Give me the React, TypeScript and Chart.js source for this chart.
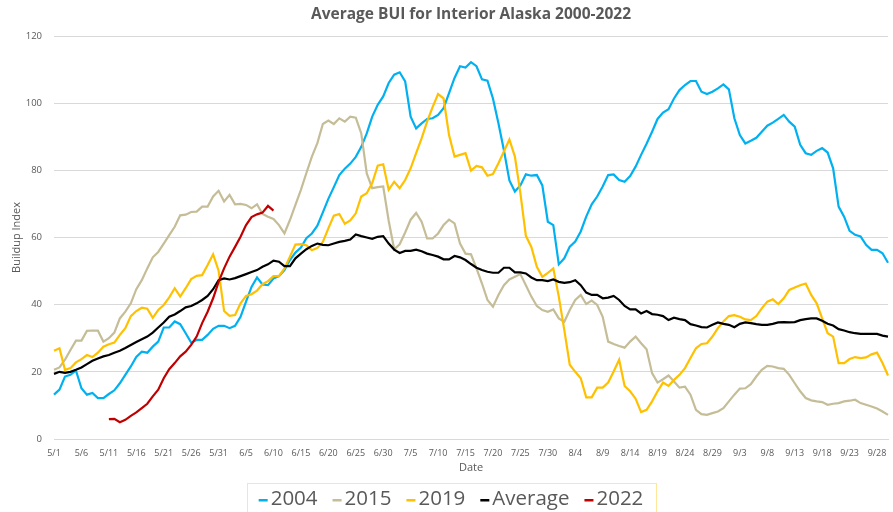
import React, { useEffect, useRef } from "react";
import { Chart, registerables } from "chart.js";

Chart.register(...registerables);

const FONT = '"Open Sans", "Noto Sans", sans-serif';
const TEXT = "#595959";

const TITLE = "Average BUI for Interior Alaska 2000-2022";
const Y_TITLE = "Buildup Index";
const X_TITLE = "Date";

const MONTHS = [5, 6, 7, 8, 9];
const MONTH_DAYS = [31, 30, 31, 31, 30];
const DATES: string[] = [];
MONTHS.forEach((m, k) => {
  for (let d = 1; d <= MONTH_DAYS[k]; d++) DATES.push(`${m}/${d}`);
});

const Y_TICKS = { min: 0, max: 120, step: 20 };

const S2004 = [
  13.2, 14.7, 18.6, 19.1, 20.4, 15.1, 13.2, 13.7, 12.2, 12.2, 13.4, 14.5, 16.6, 19.1, 21.6, 24.4, 26, 25.7, 27.5, 29, 33.2, 33.2, 35, 34.2, 31.5, 28.7, 29.5, 29.5, 31, 32.8, 33.7,
  33.7, 33, 33.7, 36.4, 40.9, 45.3, 48.1, 46, 45.8, 47.8, 48.5, 50.3, 53.3, 55.5, 57, 59.8, 61.2, 63.5, 67.5, 71.5, 75, 78.6, 80.5, 82, 84, 87, 91, 96, 99.5, 102,
  106, 108.5, 109.2, 106.5, 96, 92.5, 94, 95.3, 95.5, 96.5, 98.5, 103, 107.5, 111, 110.6, 112.2, 111, 107.1, 106.7, 101.4, 94, 86, 77, 73.7, 75.5, 78.8, 78.4, 78.6, 75.5, 64.7, 63.7,
  52, 53.8, 57.3, 58.8, 61.8, 66.2, 69.9, 72.2, 75.2, 78.6, 78.8, 77.1, 76.6, 78.3, 81.1, 84.6, 87.9, 91.5, 95.3, 97.2, 98.2, 101.4, 103.9, 105.4, 106.6, 106.6, 103.4, 102.7, 103.4, 104.4, 105.6,
  104.1, 95.5, 90.5, 88, 88.8, 89.7, 91.5, 93.3, 94.2, 95.3, 96.5, 94.5, 93, 87.6, 85.1, 84.6, 85.8, 86.6, 85.3, 80.6, 69.2, 66.2, 62, 60.8, 60.3, 57.8, 56.3, 56.3, 55.3, 52.5,
];

const S2015 = [
  20.6, 21.3, 23.6, 26.5, 29.3, 29.3, 32.2, 32.3, 32.3, 29, 30, 31.7, 35.9, 37.9, 40.4, 44.6, 47.3, 50.8, 54.1, 55.7, 58.2, 60.7, 63.2, 66.6, 66.8, 67.6, 67.7, 69.2, 69.2, 72.2, 73.9,
  70.7, 72.7, 69.9, 70, 69.7, 68.7, 69.9, 67, 66.2, 65.5, 63.7, 61.2, 65.2, 69.7, 74.2, 79.2, 84.1, 88.1, 93.8, 94.8, 93.8, 95.5, 94.5, 96, 95.7, 91, 79.1, 74.7, 75, 75.2,
  65, 56.5, 58, 61.5, 65.3, 67.3, 64.7, 59.7, 59.7, 61.2, 63.7, 65.3, 64.2, 58.2, 55.2, 55, 50.8, 46.3, 41.4, 39.4, 42.9, 45.8, 47.5, 48.3, 49.1, 45.8, 42.4, 39.6, 38.4, 37.9, 38.6,
  35.9, 34.9, 38.4, 41.4, 42.9, 40.2, 41.2, 39.9, 36.4, 29, 28.3, 27.7, 27.2, 29, 30.5, 28.5, 26.7, 19.6, 16.8, 17.8, 18.9, 17.1, 15.3, 15.6, 13.2, 8.7, 7.4, 7.2, 7.7, 8.2, 9.2,
  11.2, 13.2, 15, 15.1, 16.3, 18.6, 20.6, 21.8, 21.6, 21.1, 20.9, 19.1, 16.6, 14.2, 12.2, 11.5, 11.2, 11, 10.2, 10.5, 10.7, 11.2, 11.4, 11.7, 10.7, 10.2, 9.7, 9.1, 8.2, 7.2,
];

const S2019 = [
  26.3, 27, 20.6, 21.1, 22.8, 23.8, 25, 24.4, 25.7, 27.5, 28.2, 28.7, 31, 33, 36.6, 38.1, 39.1, 38.8, 36.1, 38.4, 39.9, 42.2, 44.9, 42.4, 44.9, 47.6, 48.6, 48.8, 51.8, 55, 50.1,
  38.1, 36.7, 36.9, 40.4, 42.6, 43.1, 44.2, 46.1, 47, 48.5, 48.5, 50.8, 54.3, 57.9, 58, 57.7, 56.2, 56.9, 58.7, 62.7, 66.5, 67, 64.1, 65.1, 67.2, 72.2, 73.2, 76.2, 81.4, 81.8,
  74.2, 76.6, 74.7, 77.1, 80.6, 85.1, 89.5, 94.5, 98.8, 102.7, 101.4, 90.5, 84.1, 84.6, 85.1, 79.9, 81.3, 80.9, 78.4, 78.9, 82.1, 85.6, 89.2, 84.1, 73.2, 60.5, 57.2, 51.3, 48.3, 49.5, 50.8,
  42.4, 32.5, 22.1, 20, 18.1, 12.4, 12.4, 15.3, 15.3, 16.8, 20.1, 23.6, 15.8, 14.2, 12, 8, 8.7, 11.2, 14.2, 16.8, 15.8, 17.6, 19.1, 21.1, 24.1, 27, 28.3, 28.5, 30.5, 33, 35,
  36.6, 36.9, 36.4, 35.6, 35.4, 36.6, 38.9, 40.9, 41.6, 40.2, 41.9, 44.4, 45.1, 45.8, 46.3, 42.9, 40.4, 35.9, 31.5, 30.5, 22.6, 22.6, 23.8, 24.4, 24.1, 24.3, 25.2, 25.7, 22.6, 18.9,
];

const SAVG = [
  19.4, 20, 19.7, 20, 20.6, 21.3, 22.3, 23.3, 24, 24.6, 25, 25.7, 26.3, 27.1, 28, 28.9, 29.7, 30.5, 31.7, 33.2, 34.7, 36.4, 37.1, 38.1, 39.2, 39.6, 40.4, 41.4, 42.6, 44.6, 47.3,
  47.8, 47.5, 47.9, 48.5, 49.1, 49.7, 50.3, 51.3, 52, 53.1, 52.8, 51.5, 51.5, 53.8, 55.2, 56.5, 57.5, 58.2, 57.8, 57.7, 58.2, 58.7, 59, 59.4, 60.9, 60.4, 60, 59.6, 60.2, 60.4,
  58.2, 56.4, 55.4, 56, 56, 56.4, 55.9, 55.2, 54.8, 54.3, 53.5, 53.5, 54.5, 54.1, 53.3, 52.1, 51, 50.3, 49.8, 49.5, 49.5, 51, 51, 49.6, 49.6, 49.3, 48.1, 47.3, 47.3, 47, 47.5,
  46.8, 46.5, 46.7, 47.3, 45.8, 43.6, 42.9, 42.9, 41.9, 42.1, 42.6, 41.4, 39.6, 38.6, 38.6, 37.4, 38.1, 37.2, 37, 36.6, 35.4, 36.1, 35.7, 35.4, 34.2, 33.8, 33.3, 33.2, 34, 34.7, 34.3,
  34, 33.3, 34.3, 34.7, 34.5, 34.2, 34, 34, 34.3, 34.7, 34.8, 34.7, 34.8, 35.4, 35.7, 35.9, 35.9, 35.2, 34.3, 33.8, 32.7, 32.3, 31.8, 31.5, 31.3, 31.3, 31.3, 31.3, 30.8, 30.5,
];

// 2022 begins on 5/11
const S2022_START = "5/11";
const S2022_VALUES = [
  5.9, 6, 5, 5.7, 6.9, 7.9, 9.2, 10.5, 12.7, 14.7, 18.1, 20.8, 22.6, 24.6, 26, 28, 30.5, 34.5, 37.9, 41.9, 46.8,
  50.8, 54.3, 57.2, 60.2, 63.7, 66.1, 66.9, 67.4, 69.4, 68,
];
const S2022: (number | null)[] = DATES.map((_, i) => {
  const k = i - DATES.indexOf(S2022_START);
  return k >= 0 && k < S2022_VALUES.length ? S2022_VALUES[k] : null;
});

const SERIES = [
  { label: "2004", data: S2004, color: "#00B0F0" },
  { label: "2015", data: S2015, color: "#C4BD97" },
  { label: "2019", data: S2019, color: "#FFC000" },
  { label: "Average", data: SAVG, color: "#000000" },
  { label: "2022", data: S2022, color: "#C00000" },
];

const overlayPlugin = {
  id: "overlay",
  afterDraw(chart: any) {
    const { ctx, chartArea } = chart;
    ctx.save();
    // title
    ctx.fillStyle = TEXT;
    ctx.font = `bold 15.5px ${FONT}`;
    ctx.textAlign = "center";
    ctx.textBaseline = "middle";
    ctx.fillText(TITLE, (chartArea.left + chartArea.right) / 2, 15);

    // legend
    ctx.font = `20.5px ${FONT}`;
    const ds = chart.data.datasets;
    const markerW = 9;
    const markerGap = 3;
    const itemGap = 15;
    const padX = 12;
    const widths = ds.map((d: any) => ctx.measureText(d.label).width);
    const total =
      widths.reduce((a: number, w: number) => a + markerW + markerGap + w, 0) +
      itemGap * (ds.length - 1);
    const boxW = total + padX * 2;
    const cx = 451;
    const left = cx - boxW / 2;
    const top = 483.5;
    ctx.strokeStyle = "#FFE699";
    ctx.lineWidth = 1;
    ctx.strokeRect(Math.round(left) + 0.5, top, Math.round(boxW), 60);
    let x = left + padX;
    const cy = 499;
    ctx.textAlign = "left";
    ctx.textBaseline = "middle";
    ds.forEach((d: any, i: number) => {
      ctx.fillStyle = d.borderColor;
      ctx.fillRect(x, cy, markerW, 2.5);
      x += markerW + markerGap;
      ctx.fillStyle = TEXT;
      ctx.fillText(d.label, x, cy);
      x += widths[i] + itemGap;
    });
    ctx.restore();
  },
};

export default function App() {
  const ref = useRef<HTMLCanvasElement | null>(null);

  useEffect(() => {
    document.body.style.margin = "0";
    if (!ref.current) return;
    Chart.defaults.font.family = FONT;
    const chart = new Chart(ref.current, {
      type: "line",
      data: {
        labels: DATES,
        datasets: SERIES.map((s, i) => ({
          label: s.label,
          data: s.data,
          borderColor: s.color,
          backgroundColor: s.color,
          borderWidth: 2.2,
          pointRadius: 0,
          pointHoverRadius: 0,
          tension: 0,
          fill: false,
          spanGaps: false,
          order: SERIES.length - i,
        })),
      },
      options: {
        responsive: false,
        animation: false,
        layout: { padding: { top: 36, right: 5, bottom: 38, left: 0 } },
        plugins: {
          legend: { display: false },
          title: { display: false },
          tooltip: { enabled: false },
        },
        scales: {
          x: {
            type: "category",
            offset: false,
            grid: { display: false },
            border: { display: true, color: "#D9D9D9" },
            ticks: {
              autoSkip: false,
              maxRotation: 0,
              minRotation: 0,
              padding: 1,
              color: TEXT,
              font: { size: 9, family: FONT },
              callback: (_v: any, i: number) => (i % 5 === 0 ? DATES[i] : ""),
            },
            title: {
              display: true,
              text: X_TITLE,
              color: TEXT,
              font: { size: 11, family: FONT },
              padding: { top: 0, bottom: 0 },
            },
            afterFit: (s: any) => {
              s.height = 35;
            },
          },
          y: {
            min: Y_TICKS.min,
            max: Y_TICKS.max,
            grid: { color: "#D9D9D9", drawTicks: false },
            border: { display: false },
            ticks: {
              stepSize: Y_TICKS.step,
              padding: 12,
              color: TEXT,
              font: { size: 9.5, family: FONT },
            },
            title: {
              display: true,
              text: Y_TITLE,
              color: TEXT,
              font: { size: 11, family: FONT },
              padding: { top: 10, bottom: 0 },
            },
            afterFit: (s: any) => {
              s.width = 54;
            },
          },
        },
      },
      plugins: [overlayPlugin],
    });
    return () => chart.destroy();
  }, []);

  return (
    <div style={{ width: 893, height: 512, position: "relative" }}>
      <canvas ref={ref} width={893} height={512} style={{ display: "block" }} />
    </div>
  );
}
